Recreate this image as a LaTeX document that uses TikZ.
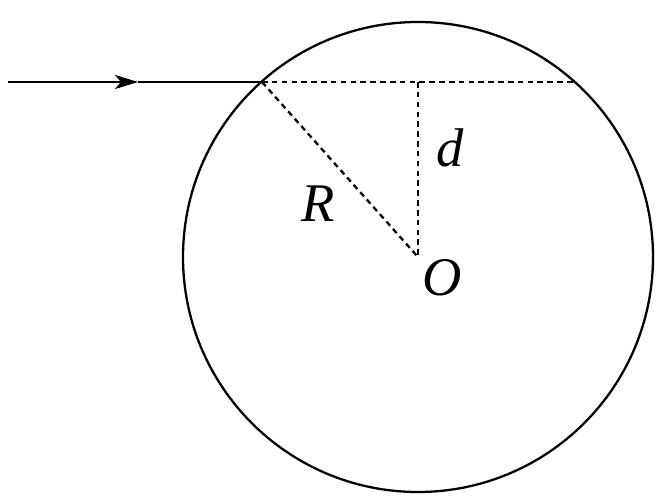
\documentclass[tikz,border=0pt]{standalone}
\usepackage{fontspec}
\setmainfont{Liberation Serif}
\usetikzlibrary{arrows.meta}

\begin{document}
\begin{tikzpicture}[
      x=0.02cm, y=-0.02cm,
      thick/.style={line width=1.3pt},
      dots/.style={line width=1.3pt, dash pattern=on 3.2pt off 2.4pt},
      lbl/.style={font=\fontsize{31}{36}\selectfont\itshape, inner sep=0pt},
    ]
      \useasboundingbox (0,0) rectangle (666,503);
      \coordinate (O) at (418,257);
      \coordinate (s) at (8,82);
      \coordinate (m) at (138,82);
      \coordinate (P) at (262,82);
      \coordinate (Q) at (575,82);
      \coordinate (D) at (418,82);
      \draw[thick] (O) circle (235);
      \draw[thick, -{Stealth[length=0.46cm, width=0.28cm, inset=0.12cm]}] (s) -- (m);
      \draw[thick] (m) -- (P);
      \draw[dots] (P) -- (Q);
      \draw[dots] (D) -- (O);
      \draw[dots] (P) -- (O);
      \node[lbl] (d) at (450,148) {d};
      \node[lbl] (R) at (318,204) {R};
      \node[lbl] (o) at (442,278) {O};
    \end{tikzpicture}
\end{document}
